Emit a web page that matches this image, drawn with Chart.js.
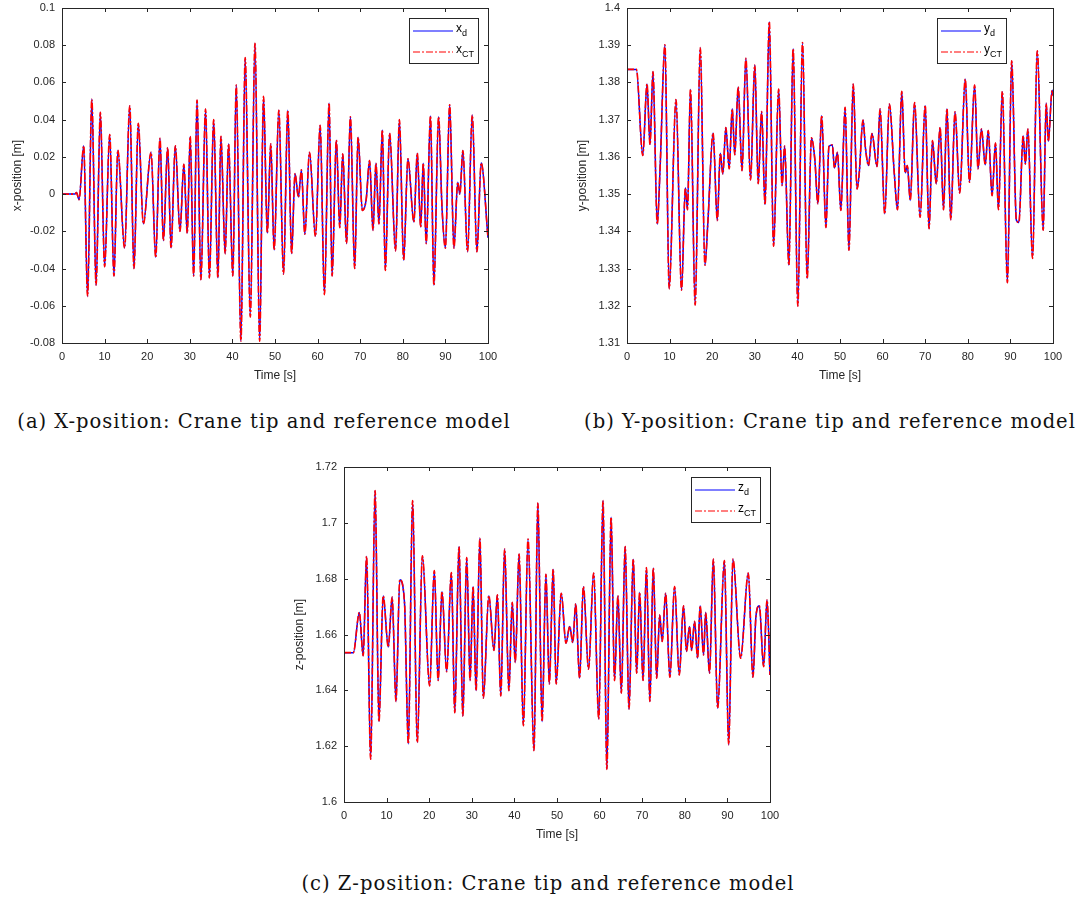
<!DOCTYPE html>
<html>
<head>
<meta charset="utf-8">
<script src="https://cdn.jsdelivr.net/npm/chart.js@4.4.0/dist/chart.umd.min.js"></script>
<style>
  body { margin: 0; background: #fff; width: 1082px; height: 898px; position: relative; overflow: hidden; }
  .plot { position: absolute; }
  .cap { position: absolute; font-family: "DejaVu Serif", serif; font-size: 19.5px; letter-spacing: 1px; color: #111;
         white-space: nowrap; transform: translate(-50%, -50%); }
</style>
</head>
<body>
<div class="plot" style="left:0;top:0;width:500px;height:390px"><canvas id="chartX"></canvas></div>
<div class="plot" style="left:565px;top:0;width:517px;height:390px"><canvas id="chartY"></canvas></div>
<div class="plot" style="left:282px;top:459px;width:500px;height:390px"><canvas id="chartZ"></canvas></div>
<div class="cap" style="left:264px;top:421px">(a) X-position: Crane tip and reference model</div>
<div class="cap" style="left:830px;top:421px">(b) Y-position: Crane tip and reference model</div>
<div class="cap" style="left:548px;top:883px">(c) Z-position: Crane tip and reference model</div>

<script>
// x-position, peaks and troughs (time in s, value in m)
const xTime = [0, 3.0, 3.4, 4.0, 5.1, 6.0, 7.0, 8.0, 9.0, 10.0,
  11.2, 12.2, 13.1, 14.7, 15.9, 16.9, 17.9, 19.1, 20.9, 22.0,
  23.0, 23.8, 24.8, 25.6, 26.6, 27.7, 28.6, 29.4, 30.1, 30.9,
  31.7, 32.6, 33.7, 34.6, 35.6, 36.6, 37.3, 38.3, 39.1, 40.1,
  40.9, 42.0, 43.0, 44.2, 45.3, 46.4, 47.3, 48.2, 49.0, 49.8,
  50.9, 52.0, 53.0, 53.9, 54.7, 55.5, 56.2, 57.0, 58.1, 59.5,
  60.6, 61.6, 62.7, 63.4, 64.4, 65.2, 65.9, 66.8, 67.7, 68.7,
  69.5, 70.5, 71.4, 72.2, 73.0, 73.7, 74.4, 75.2, 75.9, 76.9,
  78.3, 79.2, 80.2, 81.2, 82.6, 83.4, 84.2, 84.8, 85.5, 86.5,
  87.3, 88.4, 89.2, 90.0, 91.0, 92.0, 92.9, 93.4, 94.1, 95.2,
  96.3, 97.4, 98.4, 100];
const xValues = [0, 0, 0.0008, -0.003, 0.026, -0.055, 0.051, -0.049, 0.044, -0.039,
  0.032, -0.044, 0.0236, -0.029, 0.0475, -0.040, 0.038, -0.016, 0.0225, -0.034,
  0.030, -0.025, 0.025, -0.029, 0.026, -0.020, 0.016, -0.021, 0.031, -0.044,
  0.0505, -0.046, 0.0457, -0.045, 0.040, -0.045, 0.031, -0.032, 0.027, -0.044,
  0.0586, -0.079, 0.0734, -0.066, 0.081, -0.079, 0.0525, -0.021, 0.027, -0.030,
  0.045, -0.043, 0.045, -0.032, 0.011, -0.0016, 0.013, -0.0216, 0.0225, -0.0227,
  0.037, -0.054, 0.049, -0.044, 0.029, -0.018, 0.0216, -0.0266, 0.0416, -0.040,
  0.0305, -0.0088, -0.003, 0.018, -0.0195, 0.0166, -0.016, 0.0345, -0.041, 0.0327,
  -0.0305, 0.040, -0.0355, 0.019, -0.015, 0.022, -0.0177, 0.0166, -0.0266, 0.042,
  -0.049, 0.0416, -0.007, -0.029, 0.048, -0.029, 0.0064, 0.0, 0.0234, -0.031,
  0.0425, -0.031, 0.0168, -0.0234];

// y-position
const yTime = [0, 2.2, 3.7, 4.7, 5.4, 6.1, 7.1, 7.8, 8.9, 9.9,
  11.5, 12.8, 13.7, 14.2, 14.9, 16.0, 17.2, 18.3, 19.0, 20.2,
  21.2, 21.9, 22.5, 23.2, 24.0, 24.7, 25.3, 26.1, 27.0, 27.9,
  29.0, 30.0, 30.8, 31.6, 32.4, 33.4, 34.4, 35.6, 36.4, 37.0,
  38.0, 39.0, 40.1, 41.2, 42.3, 43.3, 44.1, 44.8, 45.7, 46.7,
  47.4, 48.2, 48.7, 49.4, 50.2, 51.2, 52.1, 53.1, 54.0, 54.5,
  55.4, 56.0, 56.7, 57.5, 58.7, 59.4, 60.5, 61.6, 62.7, 63.5,
  64.5, 65.3, 65.8, 66.5, 67.5, 68.8, 70.0, 70.9, 71.7, 72.6,
  73.5, 74.3, 75.1, 76.0, 77.0, 78.1, 79.4, 80.4, 81.6, 82.4,
  83.2, 84.1, 84.8, 85.7, 86.5, 87.2, 88.1, 89.3, 90.3, 91.4,
  92.0, 93.0, 93.5, 94.1, 95.2, 96.3, 97.7, 98.4, 98.9, 99.8,
  100];
const yValues = [1.3835, 1.3835, 1.3604, 1.3796, 1.3633, 1.3829, 1.3419, 1.358, 1.3901, 1.3246,
  1.3754, 1.3242, 1.3517, 1.3458, 1.3782, 1.3202, 1.3894, 1.3309, 1.3428, 1.3664,
  1.3429, 1.3610, 1.3554, 1.3679, 1.3568, 1.3729, 1.3606, 1.3788, 1.3563, 1.3865,
  1.3538, 1.3847, 1.3528, 1.3722, 1.3472, 1.3963, 1.3360, 1.3782, 1.3523, 1.3629,
  1.3309, 1.3891, 1.3199, 1.3907, 1.3273, 1.3651, 1.3592, 1.3474, 1.3711, 1.3410,
  1.3628, 1.3632, 1.3570, 1.3612, 1.3456, 1.3733, 1.3349, 1.3796, 1.3514, 1.3554,
  1.3699, 1.3621, 1.3577, 1.3663, 1.3574, 1.3729, 1.3447, 1.3742, 1.3563, 1.3458,
  1.3776, 1.3557, 1.3577, 1.3483, 1.3746, 1.3438, 1.3738, 1.3407, 1.3644, 1.3528,
  1.3679, 1.3458, 1.3729, 1.3431, 1.3721, 1.3503, 1.3809, 1.3532, 1.3793, 1.3568,
  1.3675, 1.3579, 1.3671, 1.3496, 1.3637, 1.3458, 1.3776, 1.3262, 1.3858, 1.3430,
  1.3424, 1.3657, 1.3581, 1.3675, 1.3327, 1.3885, 1.3403, 1.3744, 1.3642, 1.3779,
  1.3765];

// z-position
const zTime = [0, 2.2, 3.6, 4.5, 5.3, 6.25, 7.3, 8.2, 9.2, 10.4,
  11.3, 12.2, 13.1, 14.2, 15.1, 16.1, 17.2, 18.4, 20.1, 21.2,
  22.1, 23.0, 24.1, 25.2, 26.0, 27.0, 27.9, 28.8, 29.6, 30.3,
  31.0, 31.9, 32.7, 34.0, 35.2, 36.0, 36.8, 37.7, 38.7, 39.5,
  40.2, 41.1, 42.1, 43.2, 44.6, 45.5, 46.5, 47.4, 48.2, 49.1,
  49.8, 51.0, 52.1, 53.0, 53.7, 54.4, 55.3, 56.2, 57.4, 58.6,
  59.8, 60.8, 61.7, 62.7, 63.5, 64.3, 65.1, 66.0, 66.9, 67.9,
  68.7, 69.4, 70.2, 71.0, 71.8, 72.6, 73.4, 74.1, 74.7, 75.5,
  76.5, 77.6, 78.7, 79.7, 80.4, 81.1, 81.6, 82.3, 83.0, 83.6,
  84.4, 84.9, 85.8, 86.7, 87.7, 89.3, 90.3, 91.3, 93.1, 94.9,
  96.0, 96.7, 97.5, 98.5, 99.3, 100];
const zValues = [1.6535, 1.6535, 1.6679, 1.6524, 1.688, 1.6153, 1.7116, 1.6288, 1.6739, 1.6555,
  1.6734, 1.636, 1.6796, 1.6715, 1.6208, 1.708, 1.6213, 1.6882, 1.6416, 1.6829,
  1.6435, 1.6754, 1.6467, 1.6822, 1.632, 1.6915, 1.6308, 1.6876, 1.6435, 1.6772,
  1.6399, 1.6945, 1.6372, 1.6739, 1.6543, 1.6742, 1.638, 1.6906, 1.6399, 1.6715,
  1.65, 1.6888, 1.6273, 1.6942, 1.6184, 1.7071, 1.6288, 1.6816, 1.6423, 1.6834,
  1.6423, 1.6748, 1.6569, 1.6629, 1.6571, 1.671, 1.6443, 1.6772, 1.6476, 1.682,
  1.6297, 1.708, 1.6117, 1.702, 1.6435, 1.6739, 1.639, 1.6915, 1.6332, 1.687,
  1.6461, 1.6751, 1.6435, 1.684, 1.636, 1.6838, 1.6443, 1.667, 1.6575, 1.6748,
  1.6447, 1.6772, 1.6455, 1.6703, 1.6539, 1.6629, 1.6543, 1.6647, 1.6515, 1.6703,
  1.6527, 1.6679, 1.6461, 1.687, 1.6336, 1.6865, 1.6205, 1.687, 1.6515, 1.682,
  1.6447, 1.6665, 1.6703, 1.6485, 1.6724, 1.6455];

const timeTicks = { min: 0, max: 100, step: 10 };
const AX = '#262626';
const FONT = '"Liberation Sans", Arial, sans-serif';

// MATLAB-like box with inward ticks, plus the legend with subscripts
const matlabFrame = {
    id: 'matlabFrame',
    afterDatasetsDraw(chart, args, opts) {
        const { ctx, chartArea: a, scales } = chart;
        ctx.save();
        ctx.strokeStyle = AX;
        ctx.lineWidth = 1;
        ctx.strokeRect(Math.round(a.left) + 0.5, Math.round(a.top) + 0.5,
            Math.round(a.right - a.left), Math.round(a.bottom - a.top));

        const len = 4;
        ctx.beginPath();
        scales.x.ticks.forEach(t => {
            const px = Math.round(scales.x.getPixelForValue(t.value)) + 0.5;
            ctx.moveTo(px, a.bottom); ctx.lineTo(px, a.bottom - len);
            ctx.moveTo(px, a.top); ctx.lineTo(px, a.top + len);
        });
        scales.y.ticks.forEach(t => {
            const py = Math.round(scales.y.getPixelForValue(t.value)) + 0.5;
            ctx.moveTo(a.left, py); ctx.lineTo(a.left + len, py);
            ctx.moveTo(a.right, py); ctx.lineTo(a.right - len, py);
        });
        ctx.stroke();

        // legend
        const w = 69, h = 45;
        const bx = Math.round(a.right - opts.right - w), by = Math.round(a.top + 10);
        ctx.fillStyle = '#fff';
        ctx.fillRect(bx, by, w, h);
        ctx.strokeStyle = AX;
        ctx.strokeRect(bx + 0.5, by + 0.5, w, h);
        chart.data.datasets.forEach((ds, i) => {
            const y = by + 13 + i * 21;
            ctx.strokeStyle = ds.borderColor;
            ctx.lineWidth = 1.2;
            ctx.setLineDash(ds.borderDash || []);
            ctx.beginPath();
            ctx.moveTo(bx + 4, y); ctx.lineTo(bx + 44, y);
            ctx.stroke();
            ctx.setLineDash([]);
            ctx.fillStyle = '#000';
            ctx.textBaseline = 'middle';
            ctx.textAlign = 'left';
            ctx.font = '12px ' + FONT;
            ctx.fillText(opts.names[i][0], bx + 47, y - 2);
            const mw = ctx.measureText(opts.names[i][0]).width;
            ctx.font = '9px ' + FONT;
            ctx.fillText(opts.names[i][1], bx + 47 + mw, y + 3);
        });
        ctx.restore();
    }
};

function makeChart(id, times, values, yMin, yMax, yStep, yTitle, letter, rightPad, legendRight) {
    const points = times.map((t, i) => ({ x: t, y: values[i] }));
    new Chart(document.getElementById(id), {
        type: 'line',
        data: {
            datasets: [{
                label: letter + '_d',
                data: points,
                borderColor: '#0000ff',
                borderWidth: 1.5,
                pointRadius: 0,
                cubicInterpolationMode: 'monotone',
                order: 1
            }, {
                label: letter + '_CT',
                data: points,
                borderColor: '#ff0000',
                borderWidth: 1.6,
                borderDash: [7, 2, 2, 2],
                pointRadius: 0,
                cubicInterpolationMode: 'monotone',
                order: 0
            }]
        },
        plugins: [matlabFrame],
        options: {
            responsive: true,
            maintainAspectRatio: false,
            animation: false,
            layout: { padding: { top: 8, right: rightPad, left: 0, bottom: 0 } },
            plugins: {
                legend: { display: false },
                tooltip: { enabled: false },
                matlabFrame: { right: legendRight, names: [[letter, 'd'], [letter, 'CT']] }
            },
            scales: {
                x: {
                    type: 'linear',
                    min: timeTicks.min,
                    max: timeTicks.max,
                    afterFit: s => { s.height = 47; s.paddingLeft = 0; s.paddingRight = 0; },
                    grid: { display: false, drawTicks: false },
                    border: { display: false },
                    ticks: {
                        stepSize: timeTicks.step,
                        padding: 7,
                        color: AX,
                        font: { family: FONT, size: 11 }
                    },
                    title: {
                        display: true,
                        text: 'Time [s]',
                        color: AX,
                        padding: { top: 0, bottom: 7 },
                        font: { family: FONT, size: 12 }
                    }
                },
                y: {
                    min: yMin,
                    max: yMax,
                    afterFit: s => { s.width = 62; s.paddingTop = 0; s.paddingBottom = 0; },
                    grid: { display: false, drawTicks: false },
                    border: { display: false },
                    ticks: {
                        stepSize: yStep,
                        padding: 7,
                        color: AX,
                        font: { family: FONT, size: 11 },
                        callback: v => String(+v.toFixed(3))
                    },
                    title: {
                        display: true,
                        text: yTitle,
                        color: AX,
                        padding: { top: 10, bottom: 0 },
                        font: { family: FONT, size: 12 }
                    }
                }
            }
        }
    });
}

makeChart('chartX', xTime, xValues, -0.08, 0.1, 0.02, 'x-position [m]', 'x', 12, 10);
makeChart('chartY', yTime, yValues, 1.31, 1.4, 0.01, 'y-position [m]', 'y', 29, 47);
makeChart('chartZ', zTime, zValues, 1.6, 1.72, 0.02, 'z-position [m]', 'z', 12, 10);
</script>
</body>
</html>
